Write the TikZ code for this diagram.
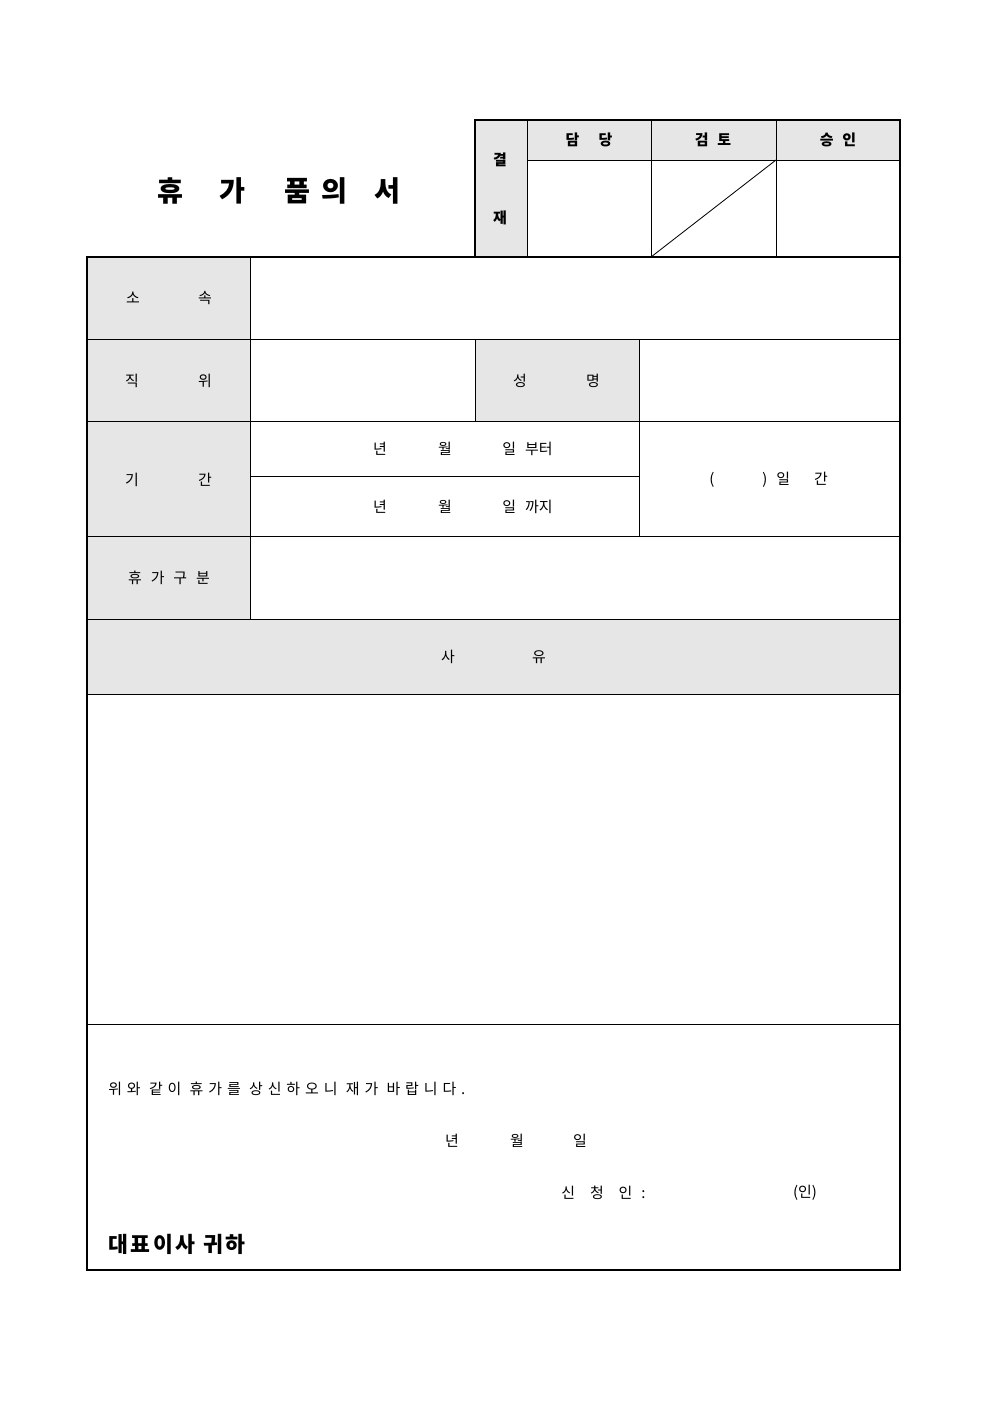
\documentclass[tikz,border=0pt]{standalone}
\usepackage{fontspec}
\setmainfont{Noto Sans CJK KR}
\usetikzlibrary{positioning}

\definecolor{cellgray}{HTML}{E6E6E6}

\tikzset{
  thin line/.style={line width=0.5pt},
  thick line/.style={line width=1.4pt},
  txt/.style={inner sep=0pt, font=\fontsize{9}{11}\selectfont},
  bigtxt/.style={inner sep=0pt, font=\fontsize{17}{20}\selectfont\bfseries},
}

\begin{document}
\begin{tikzpicture}[x=0.2117mm, y=-0.2117mm]
    \useasboundingbox (0,0) rectangle (992,1403);

    % corners of the form
    \coordinate (TL) at (87,257);
    \coordinate (BR) at (900,1270);
    \coordinate (AppTL) at (475,120);

    % gray cells
    \fill[cellgray] (475,120) rectangle (527,257);
    \fill[cellgray] (527,120) rectangle (900,160);
    \fill[cellgray] (87,257) rectangle (250,619);
    \fill[cellgray] (475,339) rectangle (639,421);
    \fill[cellgray] (87,619) rectangle (900,694);

    % approval box
    \draw[thin line] (527,160) -- (900,160);
    \draw[thin line] (527,120) -- (527,257);
    \draw[thin line] (651,120) -- (651,257);
    \draw[thin line] (776,120) -- (776,257);
    \draw[thin line] (651,257) -- (776,160);
    \draw[thick line] (475,257) |- (900,120) -- (900,257);

    % grid of the form
    \draw[thin line] (87,339) -- (900,339);
    \draw[thin line] (87,421) -- (900,421);
    \draw[thin line] (250,476) -- (639,476);
    \draw[thin line] (87,536) -- (900,536);
    \draw[thin line] (87,619) -- (900,619);
    \draw[thin line] (87,694) -- (900,694);
    \draw[thin line] (87,1024) -- (900,1024);
    \draw[thin line] (250,257) -- (250,619);
    \draw[thin line] (475,339) -- (475,421);
    \draw[thin line] (639,339) -- (639,536);
    \draw[thick line] (TL) rectangle (BR);

    % title
    \node[bigtxt] (tHyu) at (170,191) {휴};
    \node[bigtxt] (tGa) at (232,191) {가};
    \node[bigtxt] (tPum) at (297,191) {품};
    \node[bigtxt] (tUi) at (334,191) {의};
    \node[bigtxt] (tSeo) at (387,191) {서};

    % approval labels
    \node[txt, font=\fontsize{9}{11}\selectfont\bfseries] (gyeol) at (500,160) {결};
    \node[txt, font=\fontsize{9}{11}\selectfont\bfseries] (jae) at (500,218) {재};
    \node[txt, font=\fontsize{9}{11}\selectfont\bfseries] (damdang) at (589,140) {담\hspace{1.3em}당};
    \node[txt, font=\fontsize{9}{11}\selectfont\bfseries] (geomto) at (713,140) {검\hspace{0.6em}토};
    \node[txt, font=\fontsize{9}{11}\selectfont\bfseries] (seungin) at (838,140) {승\hspace{0.6em}인};

    % row labels
    \node[txt] (so) at (133,298) {소};
    \node[txt] (sok) at (205,298) {속};
    \node[txt] (jik) at (132,381) {직};
    \node[txt] (wi) at (205,381) {위};
    \node[txt] (gi) at (132,480) {기};
    \node[txt] (gan) at (205,480) {간};
    \node[txt] (gubun) at (169,578) {휴\hspace{0.6em}가\hspace{0.6em}구\hspace{0.6em}분};
    \node[txt] (seong) at (520,381) {성};
    \node[txt] (myeong) at (593,381) {명};

    % period
    \node[txt] (fromYear) at (380,449) {년};
    \node[txt] (fromMonth) at (445,449) {월};
    \node[txt, anchor=west] (fromDay) at (502,449) {일\hspace{0.6em}부터};
    \node[txt] (toYear) at (380,507) {년};
    \node[txt] (toMonth) at (445,507) {월};
    \node[txt, anchor=west] (toDay) at (502,507) {일\hspace{0.6em}까지};
    \node[txt] (openPar) at (712,480) {(};
    \node[txt, anchor=west] (days) at (762,480) {)\hspace{0.6em}일\hspace{1.6em}간};

    % reason
    \node[txt] (sa) at (448,657) {사};
    \node[txt] (yu) at (539,657) {유};

    % closing text
    \node[txt, anchor=west] (request) at (108,1089)
      {\addfontfeature{LetterSpace=33}위와 같이 휴가를 상신하오니 재가 바랍니다.};
    \node[txt] (signYear) at (452,1141) {년};
    \node[txt] (signMonth) at (517,1141) {월};
    \node[txt] (signDay) at (580,1141) {일};
    \node[txt, anchor=west] (applicant) at (561,1193) {신\hspace{1em}청\hspace{1em}인\hspace{0.6em}:};
    \node[txt] (stamp) at (805,1193) {(인)};
    \node[txt, anchor=west, font=\fontsize{13}{15}\selectfont\bfseries] (ceo) at (108,1244)
      {\addfontfeature{LetterSpace=12}대표이사 귀하};
\end{tikzpicture}
\end{document}
